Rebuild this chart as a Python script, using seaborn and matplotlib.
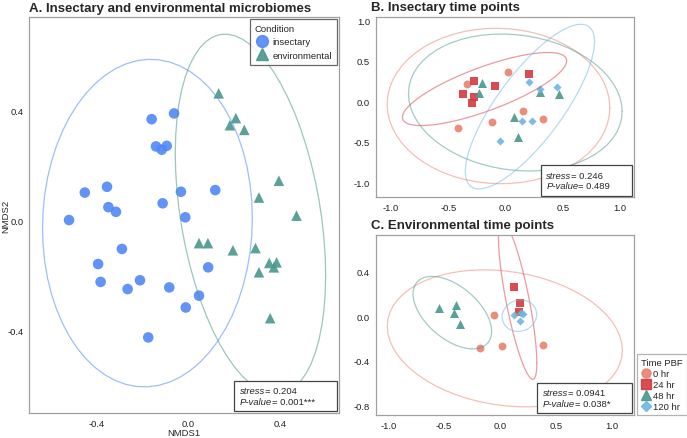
import numpy as np
import pandas as pd
import seaborn as sns
import matplotlib.pyplot as plt
from matplotlib.lines import Line2D
from matplotlib.offsetbox import TextArea, HPacker, VPacker, AnchoredOffsetbox, DrawingArea

# ---- Panel A: insectary vs environmental ----
ins_x = [-0.16, -0.062, -0.141, -0.116, -0.094, -0.452, -0.355, -0.032, 0.118, -0.112, -0.349, -0.316,
         -0.521, -0.013, -0.29, -0.394, -0.383, -0.211, -0.265, -0.083, 0.087, 0.047, -0.011, -0.175]
ins_y = [0.367, 0.388, 0.268, 0.256, 0.270, 0.10, 0.121, 0.103, 0.109, 0.061, 0.047, 0.030,
         0.0, 0.01, -0.105, -0.16, -0.225, -0.219, -0.251, -0.245, -0.172, -0.275, -0.318, -0.427]
env_x = [0.133, 0.208, 0.182, 0.245, 0.396, 0.309, 0.473, 0.047, 0.086, 0.195, 0.294, 0.309,
         0.354, 0.386, 0.374, 0.358]
env_y = [0.461, 0.371, 0.345, 0.328, 0.143, 0.082, 0.016, -0.084, -0.084, -0.11, -0.102, -0.19,
         -0.156, -0.154, -0.172, -0.357]

# ---- Panel B: insectary time points ----
b_x = {
    "0 hr": [0.02, -0.34, -0.413, -0.119, 0.151, 0.328],
    "24 hr": [-0.273, -0.372, -0.273, -0.297, -0.093, 0.203],
    "48 hr": [-0.206, -0.233, 0.075, 0.105, 0.302, 0.462],
    "120 hr": [0.203, 0.302, 0.45, 0.139, 0.226, -0.047],
}
b_y = {
    "0 hr": [0.363, 0.219, -0.334, -0.26, -0.124, -0.214],
    "24 hr": [0.248, 0.087, 0.058, -0.017, 0.19, 0.342],
    "48 hr": [0.22, 0.107, -0.19, -0.44, 0.115, 0.095],
    "120 hr": [0.243, 0.157, 0.18, -0.239, -0.248, -0.49],
}

# ---- Panel C: environmental time points ----
c_x = {
    "0 hr": [-0.051, -0.176, 0.018, 0.385],
    "24 hr": [0.128, 0.182, 0.167],
    "48 hr": [-0.543, -0.394, -0.412, -0.358],
    "120 hr": [0.125, 0.185, 0.209, 0.179],
}
c_y = {
    "0 hr": [0.012, -0.288, -0.264, -0.255],
    "24 hr": [0.264, 0.123, 0.036],
    "48 hr": [0.072, 0.102, 0.027, -0.069],
    "120 hr": [0.012, 0.03, 0.021, -0.042],
}

cond_colors = {"insectary": "#5088F5", "environmental": "#4A978C"}
cond_markers = {"insectary": "o", "environmental": "^"}
time_order = ["0 hr", "24 hr", "48 hr", "120 hr"]
time_colors = {"0 hr": "#E9806E", "24 hr": "#D5393F", "48 hr": "#4A978C", "120 hr": "#6DB6E2"}
time_markers = {"0 hr": "o", "24 hr": "s", "48 hr": "^", "120 hr": "D"}
time_sizes = {"0 hr": 32, "24 hr": 32, "48 hr": 42, "120 hr": 17}

FS = 6.8


def ellipse(x, y, level=0.95, segments=61):
    # 95% confidence ellipse from sample covariance, F-based radius
    pts = np.column_stack([x, y])
    center = pts.mean(axis=0)
    shape = np.cov(pts.T)
    d2 = len(x) - 1
    fq = d2 / 2 * ((1 - level) ** (-2 / d2) - 1)
    radius = np.sqrt(2 * fq)
    ang = np.linspace(0, 2 * np.pi, segments)
    circ = np.column_stack([np.cos(ang), np.sin(ang)])
    e = center + radius * circ @ np.linalg.cholesky(shape).T
    return e[:, 0], e[:, 1]


def stats_box(ax, stress, pval, extra=10):
    fs = 6.8
    r1 = HPacker(children=[TextArea("stress", textprops=dict(style="italic", size=fs)),
                           TextArea("= " + stress, textprops=dict(size=fs))], pad=0, sep=0)
    r2 = HPacker(children=[TextArea("P-value", textprops=dict(style="italic", size=fs)),
                           TextArea("= " + pval, textprops=dict(size=fs))], pad=0, sep=0)
    col = VPacker(children=[r1, r2], align="left", pad=0, sep=1.2)
    box = HPacker(children=[col, DrawingArea(extra, 1)], pad=0, sep=0)
    anc = AnchoredOffsetbox(loc="lower right", child=box, frameon=True, pad=0.4, borderpad=0.12)
    anc.patch.set_edgecolor("#444444")
    anc.patch.set_linewidth(0.9)
    ax.add_artist(anc)


def style_axes(ax):
    for s in ax.spines.values():
        s.set_color("#A0A0A0")
        s.set_linewidth(0.9)
    ax.tick_params(length=2.5, width=0.6, color="#888888", labelsize=FS, labelcolor="#222222", pad=1.5)


sns.set_style("white")
plt.rcParams["font.family"] = ["Liberation Sans", "DejaVu Sans"]
plt.rcParams["axes.unicode_minus"] = False

fig = plt.figure(figsize=(6.87, 4.39), dpi=100)
axA = fig.add_axes([0.0422, 0.0569, 0.451, 0.901])
axB = fig.add_axes([0.547, 0.548, 0.376, 0.412])
axC = fig.add_axes([0.547, 0.0524, 0.376, 0.411])

# Panel A
dfA = pd.DataFrame({
    "x": ins_x + env_x,
    "y": ins_y + env_y,
    "Condition": ["insectary"] * len(ins_x) + ["environmental"] * len(env_x),
})
for cond, g in dfA.groupby("Condition"):
    ex, ey = ellipse(g["x"].values, g["y"].values)
    axA.plot(ex, ey, color=cond_colors[cond], alpha=0.55, lw=0.9)
sns.scatterplot(data=dfA, x="x", y="y", hue="Condition", style="Condition",
                palette=cond_colors, markers=cond_markers, s=58, linewidth=0,
                alpha=0.9, legend=False, ax=axA)
axA.set_xlim(-0.696, 0.658)
axA.set_ylim(-0.702, 0.737)
axA.set_xticks([-0.4, 0.0, 0.4])
axA.set_yticks([-0.4, 0.0, 0.4])
axA.set_xlabel("NMDS1", fontsize=FS, labelpad=0.5)
axA.set_ylabel("NMDS2", fontsize=FS)
axA.yaxis.set_label_coords(-0.062, 0.5)
style_axes(axA)
axA.set_title("A. Insectary and environmental microbiomes", loc="left", x=0.0,
              fontsize=9.5, fontweight="bold", pad=5)
hA = [Line2D([], [], ls="", marker=cond_markers[c], color=cond_colors[c], markersize=8.5, alpha=0.9)
      for c in ["insectary", "environmental"]]
legA = axA.legend(hA, ["insectary", "environmental"], title="Condition", loc="upper right",
                  fontsize=FS, title_fontsize=FS, frameon=True, fancybox=False,
                  borderaxespad=0.15, handletextpad=0.3, borderpad=0.55, labelspacing=0.45,
                  handlelength=1.6)
legA.get_frame().set_edgecolor("#444444")
legA.get_frame().set_linewidth(0.9)
legA._legend_box.align = "left"
stats_box(axA, "0.204", "0.001***", extra=12)


def time_panel(ax, xs, ys, xlim, ylim, yticks, title, stress, pval):
    df = pd.DataFrame({
        "x": sum([xs[t] for t in time_order], []),
        "y": sum([ys[t] for t in time_order], []),
        "Time": sum([[t] * len(xs[t]) for t in time_order], []),
    })
    for t in time_order:
        g = df[df["Time"] == t]
        ex, ey = ellipse(g["x"].values, g["y"].values)
        ax.plot(ex, ey, color=time_colors[t], alpha=0.5, lw=0.9)
    for t in time_order:
        sns.scatterplot(data=df[df["Time"] == t], x="x", y="y", color=time_colors[t],
                        marker=time_markers[t], s=time_sizes[t], linewidth=0, alpha=0.9,
                        legend=False, ax=ax)
    ax.set_xlim(*xlim)
    ax.set_ylim(*ylim)
    ax.set_xticks([-1.0, -0.5, 0.0, 0.5, 1.0])
    ax.set_yticks(yticks)
    ax.set_xlabel("")
    ax.set_ylabel("")
    style_axes(ax)
    ax.set_title(title, loc="left", x=-0.02, fontsize=9.5, fontweight="bold", pad=5)
    stats_box(ax, stress, pval, extra=12)


time_panel(axB, b_x, b_y, (-1.133, 1.121), (-1.19, 1.048), [-1.0, -0.5, 0.0, 0.5, 1.0],
           "B. Insectary time points", "0.246", "0.489")
time_panel(axC, c_x, c_y, (-1.113, 1.203), (-0.889, 0.736), [-0.8, -0.4, 0.0, 0.4],
           "C. Environmental time points", "0.0941", "0.038*")

hT = [Line2D([], [], ls="", marker=time_markers[t], color=time_colors[t],
             markersize=6.5 if t != "120 hr" else 5, alpha=0.9) for t in time_order]
legC = fig.legend(hT, time_order, title="Time PBF", loc="lower left",
                  bbox_to_anchor=(0.927, 0.052), fontsize=FS, title_fontsize=FS,
                  frameon=True, fancybox=False, handletextpad=0.15, borderpad=0.45,
                  labelspacing=0.2, handlelength=1.1, borderaxespad=0)
legC.get_frame().set_edgecolor("#A0A0A0")
legC.get_frame().set_linewidth(0.9)
legC._legend_box.align = "left"

fig.savefig("out.png", dpi=100)
